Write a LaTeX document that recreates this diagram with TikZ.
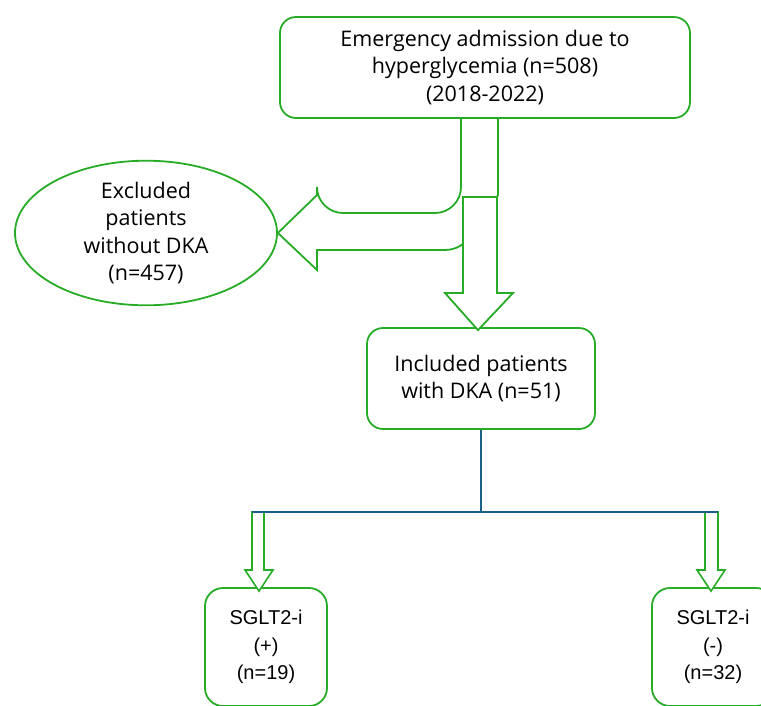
\documentclass[tikz,border=0pt]{standalone}
\usepackage{fontspec}
\setmainfont{Open Sans}
\newfontfamily\boxfont{Liberation Sans}
\usetikzlibrary{shapes.geometric}
\definecolor{flowgreen}{RGB}{40,172,40}
\definecolor{splitblue}{RGB}{27,96,138}

\begin{document}
\begin{tikzpicture}[x=1pt,y=-1pt,
    box/.style={draw=flowgreen,line width=1.8pt,rounded corners=16pt,fill=white,align=center,inner sep=0pt,
      font=\fontsize{21.5}{27.5}\selectfont},
    oval/.style={box,ellipse,rounded corners=0pt},
    group/.style={box,minimum width=122pt,minimum height=118pt,rounded corners=18pt,
      font=\boxfont\fontsize{20}{27.5}\selectfont},
    blockarrow/.style={draw=flowgreen,line width=1.8pt,fill=white,line join=miter},
    split/.style={draw=splitblue,line width=1.6pt}]
    \useasboundingbox (0,0) rectangle (761,705);
    \clip (0,0) rectangle (761,705);

    \node[box,minimum width=410pt,minimum height=101pt] (adm) at (485,67.5)
      {Emergency admission due to\\ hyperglycemia (n=508)\\ (2018-2022)};
    \node[oval,minimum width=262pt,minimum height=116pt] (excl) at (146,233)
      {Excluded\\ patients\\ without DKA\\ (n=457)};
    \node[box,minimum width=228pt,minimum height=101pt] (incl) at (481,378.5)
      {Included patients\\ with DKA (n=51)};
    \node[group] (pos) at (266,647) {SGLT2-i\\ (+)\\ (n=19)};
    \node[group] (neg) at (713,647) {SGLT2-i\\ (-)\\ (n=32)};

    % bent arrow to the excluded patients
    \draw[blockarrow] (461,118) [rounded corners=26pt] -- (461,213) -- (317,213) [sharp corners]
      -- (317,195) -- (excl.east) -- (317,270) -- (317,250) -- (445,250)
      .. controls (460,250) and (470,240) .. (482,222) -- (498,195) -- (498,118) -- cycle;
    % straight arrow to the included patients
    \draw[blockarrow] (463,197) -- (497,197) -- (497,293) -- (513,293)
      -- ([xshift=-3pt,yshift=-3pt]incl.north) -- (445,293) -- (463,293) -- cycle;

    \draw[blockarrow,line width=1.6pt] (252,512) -- (264,512) -- (264,570) -- (273,570)
      -- ([xshift=-7pt,yshift=-4pt]pos.north) -- (245,570) -- (252,570) -- cycle;
    \draw[blockarrow,line width=1.6pt] (705,512) -- (718,512) -- (718,570) -- (725,570)
      -- ([xshift=-2pt,yshift=-4pt]neg.north) -- (697,570) -- (705,570) -- cycle;

    \draw[split] (incl.south) -- (incl.south |- 0,512) coordinate (fork);
    \draw[split] (252,512) -- (fork) -- (718,512);
\end{tikzpicture}
\end{document}
